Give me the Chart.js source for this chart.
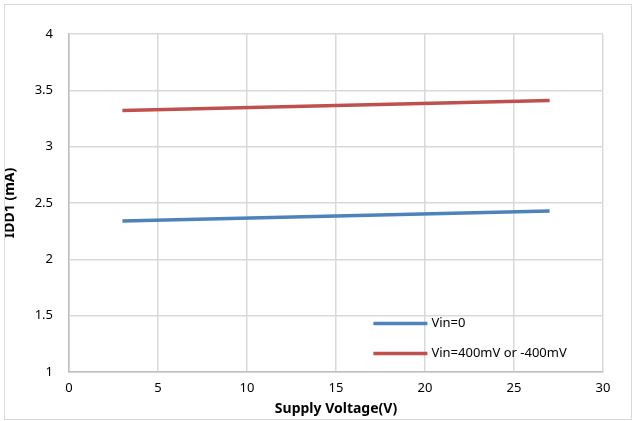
<!DOCTYPE html>
<html>
<head>
<meta charset="utf-8">
<script src="https://cdn.jsdelivr.net/npm/chart.js@4"></script>
<style>
  html, body { margin: 0; padding: 0; background: #fff; }
  #wrap { position: relative; width: 636px; height: 421px; }
  #frame { position: absolute; left: 4px; top: 4px; width: 626px; height: 414px; border: 1.5px solid #d9d9d9; pointer-events: none; }
</style>
</head>
<body>
<div id="wrap">
  <canvas id="chart" width="636" height="421"></canvas>
  <div id="frame"></div>
</div>
<script>
// supply voltage (V)
const voltage = [3, 27];
const idd1Vin0 = [2.34, 2.43];
const idd1Vin400 = [3.32, 3.41];
const seriesNames = ['Vin=0', 'Vin=400mV or -400mV'];
const seriesColors = ['#4f81bd', '#c0504d'];

const FONT = '"Noto Sans", "Open Sans", sans-serif';

// legend drawn inside the plot, bottom right
const insideLegend = {
    id: 'insideLegend',
    afterDraw(chart) {
        const ctx = chart.ctx;
        const x0 = chart.scales.x.getPixelForValue(17.1);
        ctx.save();
        chart.data.datasets.forEach((ds, i) => {
            const y = chart.scales.y.getPixelForValue(1.43 - i * 0.265);
            ctx.strokeStyle = ds.borderColor;
            ctx.lineWidth = 3.5;
            ctx.beginPath();
            ctx.moveTo(x0, y);
            ctx.lineTo(x0 + 54, y);
            ctx.stroke();
            ctx.fillStyle = '#000';
            ctx.font = '13px ' + FONT;
            ctx.textBaseline = 'middle';
            ctx.fillText(ds.label, x0 + 58, y);
        });
        ctx.restore();
    }
};

new Chart(document.getElementById('chart'), {
    type: 'line',
    data: {
        datasets: [
            {
                label: seriesNames[0],
                data: voltage.map((v, i) => ({ x: v, y: idd1Vin0[i] })),
                borderColor: seriesColors[0],
                borderWidth: 3.5,
                pointRadius: 0,
                tension: 0
            },
            {
                label: seriesNames[1],
                data: voltage.map((v, i) => ({ x: v, y: idd1Vin400[i] })),
                borderColor: seriesColors[1],
                borderWidth: 3.5,
                pointRadius: 0,
                tension: 0
            }
        ]
    },
    options: {
        responsive: false,
        animation: false,
        layout: { padding: { left: 0, top: 34, right: 33, bottom: 0 } },
        plugins: {
            legend: { display: false },
            tooltip: { enabled: false }
        },
        scales: {
            x: {
                type: 'linear',
                min: 0,
                max: 30,
                ticks: { stepSize: 5, color: '#000', padding: 8, font: { family: FONT, size: 13 } },
                grid: { color: '#d9d9d9', lineWidth: 1.5, drawTicks: false },
                border: { color: '#bfbfbf', width: 1.5 },
                title: {
                    display: true,
                    text: 'Supply Voltage(V)',
                    color: '#000',
                    padding: { top: 0, bottom: 4 },
                    font: { family: FONT, size: 14, weight: 'bold' }
                },
                afterFit(scale) { scale.height = 49; }
            },
            y: {
                min: 1,
                max: 4,
                ticks: {
                    stepSize: 0.5,
                    color: '#000',
                    padding: 16,
                    font: { family: FONT, size: 13 },
                    callback: v => String(v)
                },
                grid: { color: '#d9d9d9', lineWidth: 1.5, drawTicks: false },
                border: { color: '#bfbfbf', width: 1.5 },
                title: {
                    display: true,
                    text: 'IDD1 (mA)',
                    color: '#000',
                    padding: { top: 2, bottom: 0 },
                    font: { family: FONT, size: 14, weight: 'bold' }
                },
                afterFit(scale) { scale.width = 69; }
            }
        }
    },
    plugins: [insideLegend]
});
</script>
</body>
</html>
